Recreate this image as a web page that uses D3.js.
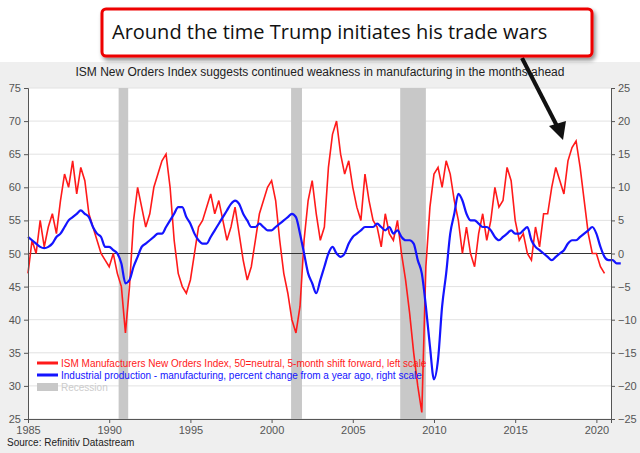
<!DOCTYPE html>
<html><head><meta charset="utf-8">
<script src="https://cdn.jsdelivr.net/npm/d3@7"></script>
<style>body{margin:0;background:#fff;font-family:"Liberation Sans",Arial,sans-serif}</style>
</head><body><svg id="chart" width="640" height="453"></svg>
<script>
// quarterly values starting 1985.0
const startYear = 1985;
const ism = [47,52,50,55, 51,54,56,53, 58,62,60,64, 59,63,61,56,
  54,52,50,49, 48,50,47,45, 38,45,55,60, 57,54,56,60, 62,64,65,60,
  52,47,45,44, 46,50,54,55, 57,59,56,58, 55,52,54,57, 53,49,46,48, 52,56,58,60,
  61,58,52,47, 44,40,38,42, 52,58,61,56, 52,54,63,68, 70,65,62,64,
  60,57,55,62, 58,55,54,51, 56,53,52,55, 50,46,41,35, 30,26,48,57,
  62,63,60,64, 62,58,55,50, 54,50,48,53, 56,52,55,60, 57,58,63,61,
  55,52,53,50, 49,54,51,56, 56,60,63,61, 59,64,66,67, 63,58,53,50,
  50,48,47];
const ip = [2.5,2,1.5,1, 0.8,1,1.5,2.5, 3,4,5,5.5, 6,6.5,6,5.5,
  4,3,2.5,1, 1,0.5,0,-1.5, -4.5,-4,-2,-0.5, 1,1.5,2,2.5, 3,3,4,5,
  6,7,7,5.5, 4.5,3,2,1.5, 1.5,2.5,3.5,4.5, 5.5,6.5,7.5,8, 7.5,6,5,4, 4,4.5,4,3.5,
  3.5,4,4.5,5, 5.5,6,5.5,3, 0,-3,-4.5,-6, -4,-2,0,1, 0,-0.5,0,1.5,
  2.5,3,3.5,4, 4,4,4.5,4, 3.5,4,3,3.5, 2.5,2,2,1.5, -1,-3,-8,-14,
  -19,-16,-8,-3, 3,6,9,8, 6,5,5,4.5, 4,4,3.5,2.5, 2,2.5,3,3.5,
  3,3,3.5,4, 2,1,0.5,0, -0.5,-1,-0.5,0, 0.5,1.5,2,2, 2.5,3,3.5,4,
  3,1,-0.5,-1, -1,-1.5,-1.5];
const recessions = [[1990.58,1991.17],[2001.2,2001.87],[2007.92,2009.5]];
const xTicks = [1985,1990,1995,2000,2005,2010,2015,2020];
const leftTicks = [25,30,35,40,45,50,55,60,65,70,75];
const rightTicks = [-25,-20,-15,-10,-5,0,5,10,15,20,25];

const svg = d3.select("#chart");
const m = {l: 28, r: 611, t: 88, b: 419};
const x = d3.scaleLinear().domain([1985, 2020.9]).range([m.l, m.r]);
const yL = d3.scaleLinear().domain([25, 75]).range([m.b, m.t]);
const yR = d3.scaleLinear().domain([-25, 25]).range([m.b, m.t]);

// panel
svg.append("rect").attr("x", 0).attr("y", 62).attr("width", 640).attr("height", 391).attr("fill", "#efefef");
svg.append("rect").attr("x", m.l).attr("y", m.t).attr("width", m.r - m.l).attr("height", m.b - m.t).attr("fill", "#fff");

// grid
svg.append("g").selectAll("line").data(leftTicks).join("line")
  .attr("x1", m.l).attr("x2", m.r).attr("y1", d => yL(d)).attr("y2", d => yL(d))
  .attr("stroke", "#e2e2e2").attr("stroke-width", 1);

// recessions
svg.append("g").selectAll("rect").data(recessions).join("rect")
  .attr("x", d => x(d[0])).attr("width", d => x(d[1]) - x(d[0]))
  .attr("y", m.t).attr("height", m.b - m.t).attr("fill", "#c8c8c8");
svg.append("line").attr("x1", m.l).attr("x2", m.r).attr("y1", yL(50)).attr("y2", yL(50)).attr("stroke", "#333");

const tx = (d, i) => x(startYear + i / 4);
svg.append("path").datum(ism).attr("fill", "none").attr("stroke", "#ff1a1a").attr("stroke-width", 1.6)
  .attr("d", d3.line().x(tx).y(d => yL(d)));
svg.append("path").datum(ip).attr("fill", "none").attr("stroke", "#1414ff").attr("stroke-width", 2.2)
  .attr("d", d3.line().x(tx).y(d => yR(d)).curve(d3.curveMonotoneX));

// axes
const styleAxis = g => {
  g.selectAll("text").attr("fill", "#555").style("font-size", "11px");
  g.selectAll("line,.domain").attr("stroke", "#555");
};
svg.append("g").attr("transform", `translate(0,${m.b})`)
  .call(d3.axisBottom(x).tickValues(xTicks).tickFormat(d3.format("d")).tickSize(4)).call(styleAxis);
svg.append("g").attr("transform", `translate(${m.l},0)`)
  .call(d3.axisLeft(yL).tickValues(leftTicks).tickSize(4).tickSizeOuter(4)).call(styleAxis);
svg.append("g").attr("transform", `translate(${m.r},0)`)
  .call(d3.axisRight(yR).tickValues(rightTicks).tickSize(4).tickSizeOuter(4)).call(styleAxis);

// title, source
svg.append("text").attr("x", 320).attr("y", 76).attr("text-anchor", "middle")
  .style("font-size", "12px").attr("fill", "#222")
  .text("ISM New Orders Index suggests continued weakness in manufacturing in the months ahead");
svg.append("text").attr("x", 7).attr("y", 446).style("font-size", "10px").attr("fill", "#222")
  .text("Source: Refinitiv Datastream");

// legend
const legend = [
  {c: "#ff1a1a", t: "ISM Manufacturers New Orders Index, 50=neutral, 5-month shift forward, left scale", h: 3},
  {c: "#1414ff", t: "Industrial production - manufacturing, percent change from a year ago, right scale", h: 3},
  {c: "#c8c8c8", t: "Recession", h: 8}];
const lg = svg.append("g").selectAll("g").data(legend).join("g")
  .attr("transform", (d, i) => `translate(37,${363 + i * 12})`);
lg.append("rect").attr("x", 0).attr("y", d => -d.h / 2).attr("width", 21).attr("height", d => d.h).attr("fill", d => d.c);
lg.append("text").attr("x", 24).attr("y", 4).style("font-size", "10px").attr("fill", d => d.c === "#c8c8c8" ? "#ccc" : d.c).text(d => d.t);

// annotation
const defs = svg.append("defs");
const f = defs.append("filter").attr("id", "sh").attr("x", "-10%").attr("y", "-30%").attr("width", "130%").attr("height", "180%");
f.append("feDropShadow").attr("dx", 2).attr("dy", 3).attr("stdDeviation", 2).attr("flood-color", "#000").attr("flood-opacity", 0.45);
svg.append("line").attr("x1", 522).attr("y1", 58).attr("x2", 558).attr("y2", 128).attr("stroke", "#111").attr("stroke-width", 4);
svg.append("path").attr("d", "M549,126 L563,140 L566,121 Z").attr("fill", "#111");
svg.append("rect").attr("x", 102).attr("y", 9).attr("width", 490).attr("height", 47).attr("rx", 4)
  .attr("fill", "#fff").attr("stroke", "#ee0000").attr("stroke-width", 3).attr("filter", "url(#sh)");
svg.append("text").attr("x", 112).attr("y", 39).style("font-family", "'Open Sans',sans-serif").style("font-size", "20px")
  .attr("fill", "#111").text("Around the time Trump initiates his trade wars");
</script></body></html>
